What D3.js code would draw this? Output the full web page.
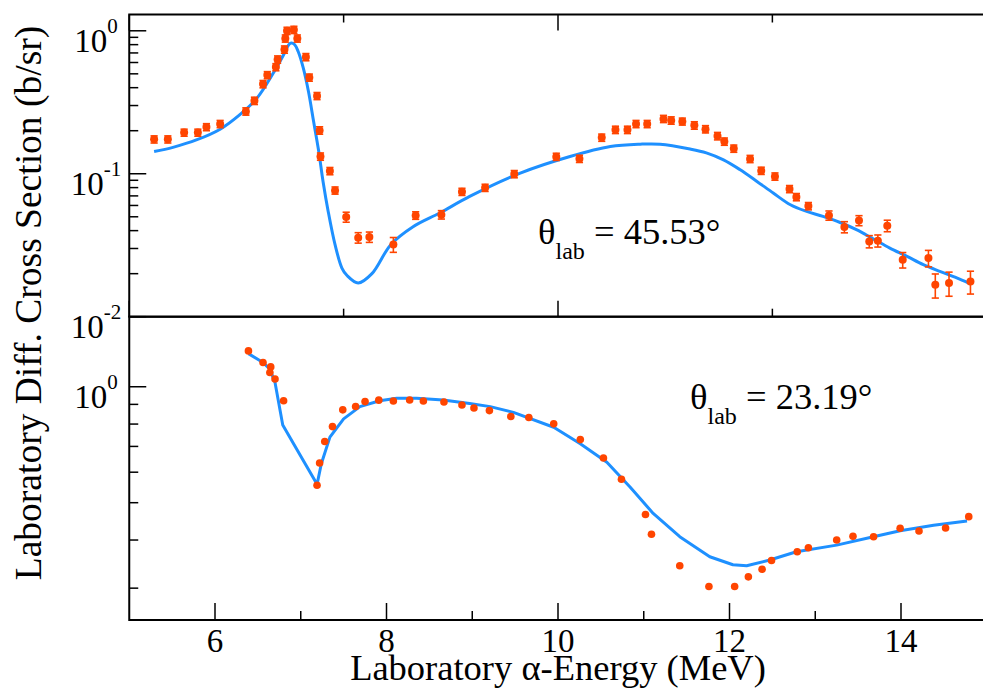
<!DOCTYPE html>
<html lang="en">
  <head>
    <meta charset="UTF-8" />
    <title>Laboratory Diff. Cross Section</title>
    <style>
      body {
        margin: 0;
        background: #fff;
      }
      svg text {
        font-family: "Liberation Serif", "DejaVu Serif", serif;
        fill: #000;
      }
    </style>
  </head>
  <body>
    <svg width="983" height="699"></svg>
    <script src="https://cdnjs.cloudflare.com/ajax/libs/d3/7.8.5/d3.min.js"></script>
    <script>
      // upper panel, theta_lab = 45.53 deg : data points (MeV, b/sr)
      const topE = [5.29, 5.45, 5.64, 5.8, 5.9, 6.06, 6.36, 6.46, 6.56, 6.61, 6.71, 6.73, 6.81, 6.82, 6.84, 6.92, 6.96, 7.06, 7.1, 7.19, 7.22, 7.23, 7.34, 7.4, 7.53, 7.67, 7.8, 8.08, 8.34, 8.64, 8.88, 9.15, 9.49, 9.98, 10.25, 10.51, 10.67, 10.81, 10.91, 11.04, 11.23, 11.32, 11.45, 11.59, 11.72, 11.86, 11.94, 12.05, 12.24, 12.37, 12.53, 12.7, 12.78, 12.92, 13.16, 13.34, 13.51, 13.63, 13.73, 13.84, 14.02, 14.32, 14.4, 14.56, 14.81];
      const topV = [0.174, 0.174, 0.194, 0.194, 0.212, 0.223, 0.273, 0.324, 0.424, 0.49, 0.557, 0.63, 0.74, 0.884, 1.0, 1.016, 0.884, 0.655, 0.471, 0.35, 0.201, 0.132, 0.1045, 0.0764, 0.0498, 0.0357, 0.0361, 0.032, 0.0511, 0.0517, 0.0748, 0.0798, 0.0995, 0.1315, 0.1273, 0.179, 0.203, 0.203, 0.223, 0.223, 0.242, 0.236, 0.232, 0.218, 0.205, 0.1835, 0.168, 0.15, 0.127, 0.105, 0.0957, 0.0782, 0.0687, 0.0594, 0.0511, 0.0424, 0.0471, 0.0336, 0.034, 0.0433, 0.025, 0.0257, 0.0167, 0.0172, 0.0176];
      const topErr = [0.01, 0.01, 0.011, 0.011, 0.012, 0.013, 0.016, 0.019, 0.025, 0.028, 0.032, 0.037, 0.043, 0.051, 0.058, 0.059, 0.051, 0.038, 0.027, 0.02, 0.012, 0.0077, 0.0061, 0.0044, 0.004, 0.003, 0.003, 0.0038, 0.0031, 0.0035, 0.0043, 0.0046, 0.0058, 0.0076, 0.0074, 0.0104, 0.012, 0.012, 0.013, 0.013, 0.014, 0.014, 0.013, 0.013, 0.012, 0.011, 0.0098, 0.0087, 0.0074, 0.0061, 0.0056, 0.0045, 0.004, 0.0035, 0.0038, 0.0038, 0.0038, 0.0033, 0.0033, 0.004, 0.0031, 0.0034, 0.0032, 0.0033, 0.0032];
      // upper panel, calculation
      const topThE = [5.29, 5.51, 5.79, 6.06, 6.29, 6.49, 6.68, 6.8, 6.86, 6.89, 6.93, 6.97, 7.03, 7.09, 7.15, 7.21, 7.26, 7.32, 7.4, 7.48, 7.54, 7.67, 7.83, 8.05, 8.31, 8.62, 8.97, 9.56, 10.14, 10.61, 10.96, 11.19, 11.54, 11.73, 11.93, 12.12, 12.32, 12.51, 12.71, 12.9, 13.09, 13.29, 13.48, 13.68, 13.87, 14.07, 14.26, 14.46, 14.65, 14.79];
      const topThV = [0.143, 0.153, 0.173, 0.205, 0.259, 0.338, 0.506, 0.68, 0.798, 0.82, 0.798, 0.716, 0.548, 0.376, 0.232, 0.143, 0.0884, 0.0545, 0.0319, 0.0219, 0.0194, 0.0172, 0.02, 0.0319, 0.0426, 0.0531, 0.0694, 0.101, 0.132, 0.155, 0.161, 0.161, 0.149, 0.14, 0.125, 0.107, 0.0884, 0.0733, 0.0607, 0.0545, 0.0503, 0.0456, 0.0406, 0.0349, 0.0302, 0.0264, 0.0231, 0.0207, 0.0187, 0.0172];

      // lower panel, theta_lab = 23.19 deg
      const botE = [6.39, 6.56, 6.65, 6.64, 6.7, 6.8, 7.19, 7.22, 7.28, 7.37, 7.49, 7.64, 7.75, 7.91, 8.08, 8.27, 8.43, 8.67, 8.88, 9.02, 9.2, 9.45, 9.66, 9.95, 10.26, 10.53, 10.74, 11.02, 11.09, 11.42, 11.76, 12.06, 12.22, 12.38, 12.49, 12.79, 12.92, 13.25, 13.44, 13.68, 13.99, 14.21, 14.52, 14.79];
      const botV = [1.239, 1.156, 1.126, 1.089, 1.047, 0.92, 0.555, 0.634, 0.721, 0.788, 0.871, 0.889, 0.915, 0.923, 0.918, 0.924, 0.918, 0.913, 0.897, 0.881, 0.867, 0.837, 0.832, 0.801, 0.729, 0.653, 0.575, 0.466, 0.414, 0.343, 0.303, 0.303, 0.321, 0.336, 0.354, 0.373, 0.382, 0.4, 0.409, 0.408, 0.429, 0.422, 0.43, 0.46];
      const botThE = [6.39, 6.56, 6.64, 6.7, 6.79, 6.95, 7.19, 7.24, 7.34, 7.5, 7.69, 7.92, 8.12, 8.35, 8.66, 8.97, 9.21, 9.48, 9.95, 10.26, 10.57, 10.84, 11.11, 11.42, 11.77, 12.04, 12.2, 12.47, 12.78, 13.25, 13.64, 13.99, 14.38, 14.77];
      const botThV = [1.219, 1.156, 1.111, 1.026, 0.796, 0.69, 0.558, 0.631, 0.74, 0.825, 0.888, 0.92, 0.933, 0.933, 0.924, 0.905, 0.888, 0.858, 0.785, 0.711, 0.637, 0.549, 0.469, 0.408, 0.362, 0.345, 0.343, 0.355, 0.373, 0.388, 0.406, 0.423, 0.437, 0.448];

      const xBotTicks = [6, 7, 8, 9, 10, 11, 12, 13, 14];
      const xBotLabels = [6, 8, 10, 12, 14];
      const xTopTicks = [5, 7.5, 10, 12.5, 15];

      const RED = "#ff4500";
      const BLUE = "#1e90ff";

      const svg = d3.select("svg");

      const x = d3.scaleLinear().domain([5, 15]).range([129.25, 986.75]);
      const yTop = d3.scaleLog().domain([0.01, 1.3]).range([316.7, 14.5]);
      const yBot = d3.scaleLog().domain([0.248, 1.52]).range([620, 316.7]);

      const isDecade = (t) => Math.abs(Math.log10(t) - Math.round(Math.log10(t))) < 1e-6;

      // curves
      const lineTop = d3.line().x((d) => x(d[0])).y((d) => yTop(d[1])).curve(d3.curveCatmullRom.alpha(0.5));
      const lineBot = d3.line().x((d) => x(d[0])).y((d) => yBot(d[1]));

      svg.append("path")
        .datum(d3.zip(topThE, topThV))
        .attr("d", lineTop)
        .attr("fill", "none")
        .attr("stroke", BLUE)
        .attr("stroke-width", 3)
        .attr("stroke-linejoin", "round");

      svg.append("path")
        .datum(d3.zip(botThE, botThV))
        .attr("d", lineBot)
        .attr("fill", "none")
        .attr("stroke", BLUE)
        .attr("stroke-width", 3)
        .attr("stroke-linejoin", "round");

      // upper panel points with error bars
      const topPts = d3.zip(topE, topV, topErr);
      const eb = svg.append("g").attr("stroke", RED).attr("stroke-width", 1.6);
      topPts.forEach((d) => {
        const cx = x(d[0]);
        const y1 = yTop(d[1] + d[2]);
        const y2 = yTop(d[1] - d[2]);
        eb.append("line").attr("x1", cx).attr("x2", cx).attr("y1", y1).attr("y2", y2);
        eb.append("line").attr("x1", cx - 3.6).attr("x2", cx + 3.6).attr("y1", y1).attr("y2", y1);
        eb.append("line").attr("x1", cx - 3.6).attr("x2", cx + 3.6).attr("y1", y2).attr("y2", y2);
      });
      svg.append("g")
        .selectAll("circle")
        .data(topPts)
        .join("circle")
        .attr("cx", (d) => x(d[0]))
        .attr("cy", (d) => yTop(d[1]))
        .attr("r", 4)
        .attr("fill", RED);

      svg.append("g")
        .selectAll("circle")
        .data(d3.zip(botE, botV))
        .join("circle")
        .attr("cx", (d) => x(d[0]))
        .attr("cy", (d) => yBot(d[1]))
        .attr("r", 3.8)
        .attr("fill", RED);

      // frames
      const axes = svg.append("g").attr("stroke", "#000").attr("fill", "none");
      const [xl, xr] = x.range();
      axes.append("rect")
        .attr("x", xl).attr("y", yTop.range()[1])
        .attr("width", xr - xl).attr("height", yTop.range()[0] - yTop.range()[1])
        .attr("stroke-width", 2);
      axes.append("rect")
        .attr("x", xl).attr("y", yBot.range()[1])
        .attr("width", xr - xl).attr("height", yBot.range()[0] - yBot.range()[1])
        .attr("stroke-width", 2);

      // y ticks (log)
      function yTicks(scale) {
        scale.ticks().forEach((t) => {
          const len = isDecade(t) ? 17 : 9;
          axes.append("line")
            .attr("x1", xl).attr("x2", xl + len)
            .attr("y1", scale(t)).attr("y2", scale(t))
            .attr("stroke-width", 1.5);
        });
      }
      yTicks(yTop);
      yTicks(yBot);

      // x ticks
      const topY0 = yTop.range()[1], topY1 = yTop.range()[0];
      xTopTicks.forEach((t) => {
        const len = t % 5 === 0 ? 16 : 8;
        axes.append("line").attr("x1", x(t)).attr("x2", x(t)).attr("y1", topY0).attr("y2", topY0 + len).attr("stroke-width", 1.5);
        axes.append("line").attr("x1", x(t)).attr("x2", x(t)).attr("y1", topY1).attr("y2", topY1 - len).attr("stroke-width", 1.5);
      });
      const botY1 = yBot.range()[0];
      xBotTicks.forEach((t) => {
        const len = t % 2 === 0 ? 17 : 9;
        axes.append("line").attr("x1", x(t)).attr("x2", x(t)).attr("y1", botY1).attr("y2", botY1 - len).attr("stroke-width", 1.5);
      });

      // tick labels
      function powLabel(y, expo) {
        const t = svg.append("text")
          .attr("x", 96)
          .attr("y", y + 21)
          .attr("text-anchor", "middle")
          .style("font-size", "33px");
        t.append("tspan").text("10");
        t.append("tspan").attr("dy", -19).style("font-size", "21px").text(expo);
      }
      yTop.ticks().filter(isDecade).forEach((t) => powLabel(yTop(t), String(Math.round(Math.log10(t)))));
      yBot.ticks().filter(isDecade).forEach((t) => powLabel(yBot(t), String(Math.round(Math.log10(t)))));

      svg.append("g")
        .selectAll("text")
        .data(xBotLabels)
        .join("text")
        .attr("x", (d) => x(d))
        .attr("y", 652)
        .attr("text-anchor", "middle")
        .style("font-size", "33px")
        .text((d) => d);

      // axis titles
      svg.append("text")
        .attr("x", x(10))
        .attr("y", 680)
        .attr("text-anchor", "middle")
        .style("font-size", "36.5px")
        .text("Laboratory \u03b1-Energy (MeV)");

      svg.append("text")
        .attr("transform", "translate(41,303) rotate(-90)")
        .attr("text-anchor", "middle")
        .style("font-size", "37.5px")
        .text("Laboratory Diff. Cross Section (b/sr)");

      // angle annotations
      function angle(xp, yp, val) {
        const t = svg.append("text").attr("x", xp).attr("y", yp).style("font-size", "36.5px");
        t.append("tspan").text("\u03b8");
        t.append("tspan").attr("dy", 15).style("font-size", "24px").text("lab");
        t.append("tspan").attr("dy", -15).text(" = " + val + "\u00b0");
      }
      angle(538, 244, "45.53");
      angle(690, 409, "23.19");
    </script>
  </body>
</html>
